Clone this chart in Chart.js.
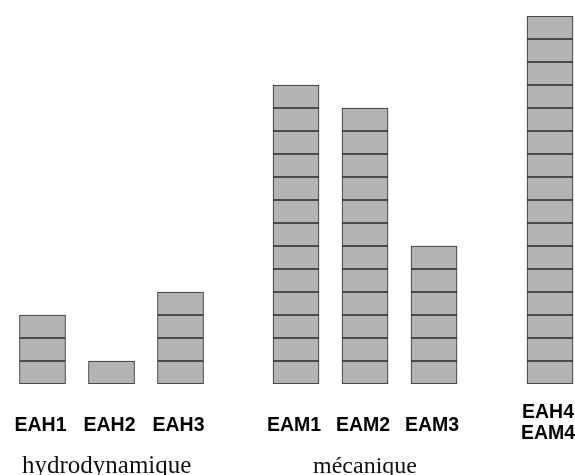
<!DOCTYPE html>
<html>
<head>
<meta charset="utf-8">
<script src="https://cdn.jsdelivr.net/npm/chart.js@4/dist/chart.umd.min.js"></script>
<style>
html,body{margin:0;padding:0;background:#fff;}
#wrap{width:575px;height:475px;position:relative;}
</style>
</head>
<body>
<div id="wrap"><canvas id="c" width="575" height="475"></canvas></div>
<script>
// ---- data ----
const categories = ['EAH1', 'EAH2', 'EAH3', 'EAM1', 'EAM2', 'EAM3', ['EAH4', 'EAM4']];
const counts = [3, 1, 4, 13, 12, 6, 16];
const positions = [0, 1, 2, 3.674, 4.674, 5.674, 7.355];
const groups = ['hydrodynamique', 'mécanique'];
const groupCenters = [0.93, 4.674];

const maxCount = Math.max(...counts);
const datasets = [];
for (let i = 0; i < maxCount; i++) {
  datasets.push({
    data: positions.map((p, k) => ({ x: p, y: counts[k] > i ? 1 : null })),
    backgroundColor: '#b3b3b3',
    borderColor: '#2a2a2a',
    borderWidth: 1,
    borderSkipped: false,
    barThickness: 46,
    stack: 's'
  });
}

const labelPlugin = {
  id: 'labels',
  afterDraw(chart) {
    const ctx = chart.ctx;
    const xs = chart.scales.x;
    ctx.save();
    ctx.fillStyle = '#000';
    ctx.textAlign = 'center';
    ctx.textBaseline = 'alphabetic';
    ctx.font = 'bold 19.5px "Liberation Sans", Arial, sans-serif';
    categories.forEach((c, k) => {
      const px = xs.getPixelForValue(positions[k]) - 2;
      if (Array.isArray(c)) {
        ctx.fillText(c[0], px, 418);
        ctx.fillText(c[1], px, 439);
      } else {
        ctx.fillText(c, px, 431);
      }
    });
    ctx.fillStyle = '#111';
    groups.forEach((g, k) => {
      ctx.font = (k === 0 ? '25px' : '24px') + ' "Liberation Serif", "Times New Roman", serif';
      ctx.fillText(g, xs.getPixelForValue(groupCenters[k]), 473);
    });
    ctx.restore();
  }
};

new Chart(document.getElementById('c'), {
  type: 'bar',
  data: { datasets },
  options: {
    responsive: false,
    animation: false,
    layout: { padding: { top: 16, bottom: 91, left: 0, right: 0 } },
    plugins: { legend: { display: false }, tooltip: { enabled: false } },
    scales: {
      x: { type: 'linear', min: -0.616, max: 7.717, offset: false, display: false, stacked: true, grid: { offset: false } },
      y: { min: 0, max: 16, display: false, stacked: true }
    }
  },
  plugins: [labelPlugin]
});
</script>
</body>
</html>
